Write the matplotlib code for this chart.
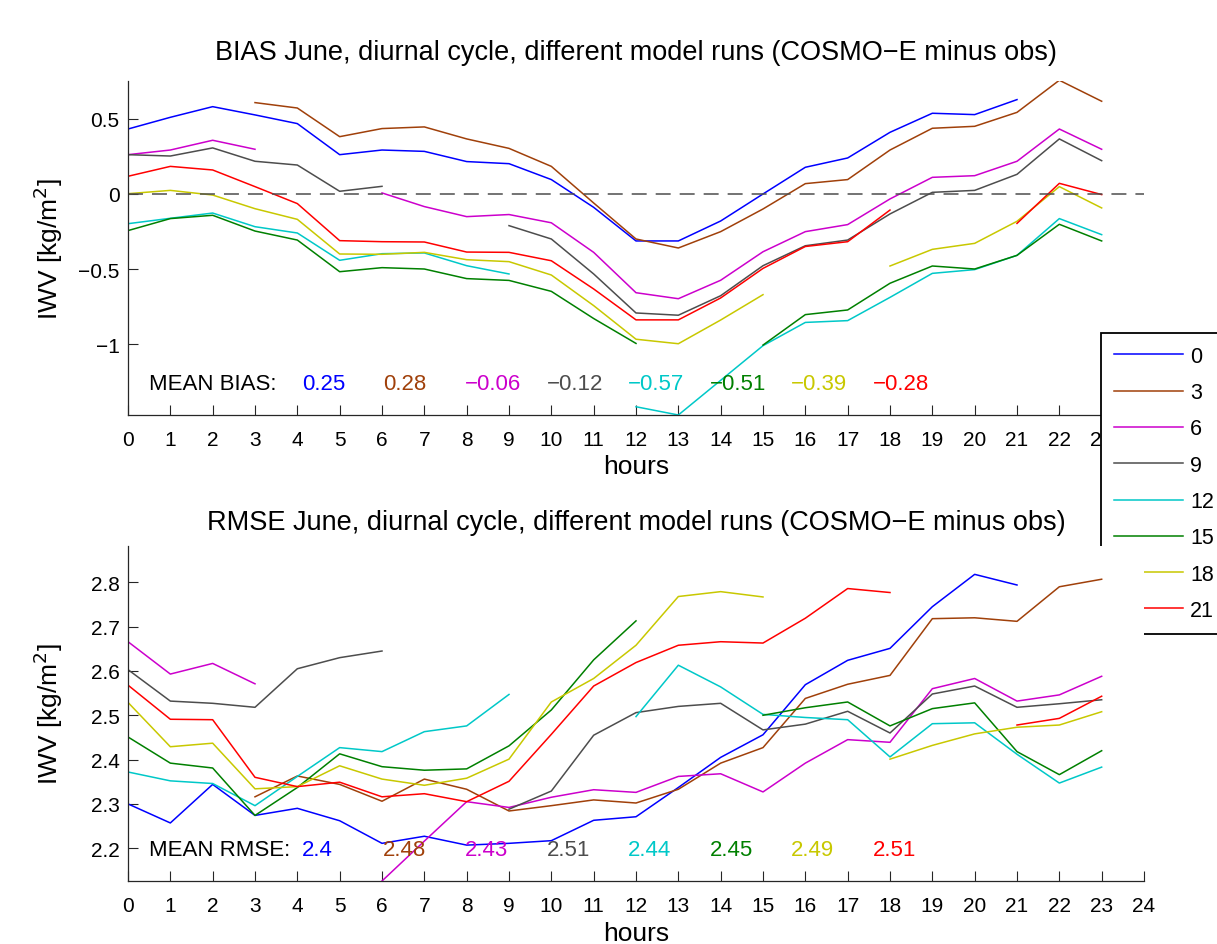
import numpy as np
import matplotlib
matplotlib.use("Agg")
import matplotlib.pyplot as plt
from matplotlib.ticker import FuncFormatter

plt.rcParams['font.family'] = ['Liberation Sans', 'DejaVu Sans']

nan = np.nan
hours = np.arange(24)
runs = ['0', '3', '6', '9', '12', '15', '18', '21']
colors = ['#0000ff', '#a0400a', '#cc00cc', '#4d4d4d', '#00c8c8', '#008000', '#c8c800', '#ff0000']

#%% BIAS per model run (kg/m2)
bias_r00 = [0.433, 0.511, 0.582, 0.527, 0.469, 0.262, 0.293, 0.284, 0.216, 0.202, 0.096, -0.089,
            -0.313, -0.313, -0.18, 0.0, 0.178, 0.24, 0.411, 0.538, 0.529, 0.629, nan, nan]
bias_r03 = [nan, nan, nan, 0.609, 0.573, 0.382, 0.436, 0.447, 0.367, 0.304, 0.184, -0.06,
            -0.3, -0.36, -0.251, -0.1, 0.069, 0.096, 0.293, 0.438, 0.451, 0.544, 0.758, 0.618]
bias_r06 = [0.262, 0.293, 0.358, 0.298, nan, nan, 0.007, -0.084, -0.151, -0.137, -0.192, -0.389,
            -0.658, -0.698, -0.575, -0.385, -0.251, -0.204, -0.033, 0.111, 0.122, 0.218, 0.433, 0.298]
bias_r09 = [0.262, 0.253, 0.307, 0.218, 0.193, 0.018, 0.051, nan, nan, -0.211, -0.3, -0.533,
            -0.793, -0.808, -0.678, -0.478, -0.345, -0.307, -0.133, 0.011, 0.024, 0.131, 0.367, 0.222]
bias_r12 = [-0.198, -0.162, -0.127, -0.218, -0.26, -0.442, -0.398, -0.393, -0.478, -0.533, nan, nan,
            -1.418, -1.473, -1.242, -1.011, -0.856, -0.844, -0.689, -0.529, -0.504, -0.409, -0.164, -0.271]
bias_r15 = [-0.244, -0.164, -0.142, -0.247, -0.307, -0.518, -0.491, -0.5, -0.564, -0.576, -0.649, -0.83,
            -0.996, nan, nan, -1.007, -0.804, -0.773, -0.595, -0.48, -0.5, -0.409, -0.202, -0.313]
bias_r18 = [0.002, 0.024, -0.007, -0.098, -0.169, -0.4, -0.402, -0.389, -0.438, -0.451, -0.54, -0.744,
            -0.968, -0.998, -0.84, -0.671, nan, nan, -0.48, -0.369, -0.329, -0.182, 0.049, -0.093]
bias_r21 = [0.118, 0.184, 0.16, 0.049, -0.064, -0.311, -0.318, -0.32, -0.387, -0.389, -0.445, -0.633,
            -0.839, -0.839, -0.693, -0.496, -0.35, -0.318, -0.107, nan, nan, -0.196, 0.071, -0.004]

#%% RMSE per model run (kg/m2)
rmse_r00 = [2.30, 2.257, 2.344, 2.274, 2.29, 2.262, 2.211, 2.227, 2.207, 2.211, 2.217, 2.263,
            2.271, 2.337, 2.405, 2.456, 2.569, 2.624, 2.651, 2.745, 2.818, 2.794, nan, nan]
rmse_r03 = [nan, nan, nan, 2.316, 2.363, 2.344, 2.306, 2.356, 2.333, 2.284, 2.296, 2.309,
            2.302, 2.333, 2.392, 2.427, 2.538, 2.57, 2.59, 2.718, 2.72, 2.712, 2.79, 2.807]
rmse_r06 = [2.666, 2.593, 2.617, 2.571, nan, nan, 2.126, 2.216, 2.305, 2.292, 2.315, 2.332,
            2.326, 2.362, 2.368, 2.327, 2.392, 2.445, 2.439, 2.56, 2.583, 2.532, 2.546, 2.588]
rmse_r09 = [2.603, 2.532, 2.527, 2.518, 2.605, 2.63, 2.645, nan, nan, 2.288, 2.329, 2.455,
            2.506, 2.52, 2.527, 2.467, 2.48, 2.509, 2.46, 2.548, 2.566, 2.518, 2.526, 2.535]
rmse_r12 = [2.372, 2.352, 2.346, 2.296, 2.362, 2.427, 2.418, 2.463, 2.476, 2.547, nan, nan,
            2.497, 2.613, 2.564, 2.502, 2.495, 2.49, 2.406, 2.481, 2.483, 2.412, 2.347, 2.383]
rmse_r15 = [2.451, 2.392, 2.381, 2.274, 2.337, 2.413, 2.384, 2.376, 2.379, 2.431, 2.512, 2.625,
            2.713, nan, nan, 2.5, 2.517, 2.53, 2.476, 2.515, 2.528, 2.418, 2.366, 2.42]
rmse_r18 = [2.529, 2.429, 2.437, 2.334, 2.339, 2.386, 2.356, 2.342, 2.358, 2.401, 2.53, 2.583,
            2.658, 2.768, 2.779, 2.767, nan, nan, 2.401, 2.432, 2.458, 2.473, 2.478, 2.508]
rmse_r21 = [2.568, 2.491, 2.49, 2.36, 2.339, 2.349, 2.316, 2.323, 2.305, 2.351, 2.457, 2.566,
            2.619, 2.658, 2.666, 2.663, 2.719, 2.786, 2.777, nan, nan, 2.478, 2.493, 2.543]

mean_bias = ['0.25', '0.28', '\u22120.06', '\u22120.12', '\u22120.57', '\u22120.51', '\u22120.39', '\u22120.28']
mean_rmse = ['2.4', '2.48', '2.43', '2.51', '2.44', '2.45', '2.49', '2.51']

bias = [bias_r00, bias_r03, bias_r06, bias_r09, bias_r12, bias_r15, bias_r18, bias_r21]
rmse = [rmse_r00, rmse_r03, rmse_r06, rmse_r09, rmse_r12, rmse_r15, rmse_r18, rmse_r21]

W, H = 1217, 945
fig = plt.figure(figsize=(W / 100, H / 100), dpi=100)
ax1 = fig.add_axes([128 / W, 1 - 416 / H, 1016 / W, 334 / H])
ax2 = fig.add_axes([128 / W, 1 - 882 / H, 1016 / W, 335 / H])

fmt = FuncFormatter(lambda v, p: ('%g' % v).replace('-', '\u2212'))


def style(ax):
    for s in ['top', 'right']:
        ax.spines[s].set_visible(False)
    for s in ['left', 'bottom']:
        ax.spines[s].set_linewidth(0.9)
        ax.spines[s].set_color('#262626')
    ax.set_xlim(0, 24)
    ax.set_xticks(np.arange(25))
    ax.tick_params(direction='in', length=7.2, width=0.8, labelsize=15, color='#262626')
    ax.tick_params(axis='x', pad=10.5)
    ax.tick_params(axis='y', pad=6)
    ax.yaxis.set_major_formatter(fmt)
    ax.set_xlabel('hours', fontsize=19)
    ax.set_ylabel('IWV [kg/m$^2$]', fontsize=19)
    ax.xaxis.set_label_coords(0.5, -0.118)
    ax.yaxis.set_label_coords(-0.062, 0.5)


#%% top panel: BIAS
for vals, c, r in zip(bias, colors, runs):
    ax1.plot(hours, vals, color=c, lw=1.1, label=r)
ax1.axhline(0, color='#4d4d4d', lw=1.1, ls=(0, (9.8, 5.9)))
style(ax1)
ax1.set_ylim(-1.473, 0.753)
ax1.set_yticks([-1, -0.5, 0, 0.5])
ax1.set_title('BIAS June, diurnal cycle, different model runs (COSMO\u2212E minus obs)', fontsize=19.5, pad=15.5)
ax1.text(0.021, 0.095, 'MEAN BIAS:', transform=ax1.transAxes, fontsize=16, va='center')
for i, (t, c) in enumerate(zip(mean_bias, colors)):
    ax1.text(0.171 + 0.0803 * i, 0.095, t, color=c, transform=ax1.transAxes, fontsize=16, va='center')

leg = ax1.legend(loc='upper left', bbox_to_anchor=(1101 / W, 1 - 334 / H), bbox_transform=fig.transFigure,
                 borderaxespad=0, fontsize=15.5, handlelength=3.2, handletextpad=0.34, borderpad=0.6,
                 labelspacing=0.71, fancybox=False, framealpha=1, edgecolor='black')
leg.get_frame().set_linewidth(1.3)

#%% bottom panel: RMSE
for vals, c, r in zip(rmse, colors, runs):
    ax2.plot(hours, vals, color=c, lw=1.1)
style(ax2)
ax2.set_ylim(2.126, 2.882)
ax2.set_yticks([2.2, 2.3, 2.4, 2.5, 2.6, 2.7, 2.8])
ax2.set_title('RMSE June, diurnal cycle, different model runs (COSMO\u2212E minus obs)', fontsize=19.5, pad=12)
ax2.text(0.021, 0.095, 'MEAN RMSE:', transform=ax2.transAxes, fontsize=16, va='center')
for i, (t, c) in enumerate(zip(mean_rmse, colors)):
    ax2.text(0.171 + 0.0803 * i, 0.095, t, color=c, transform=ax2.transAxes, fontsize=16, va='center')

fig.savefig('out.png', dpi=100)
